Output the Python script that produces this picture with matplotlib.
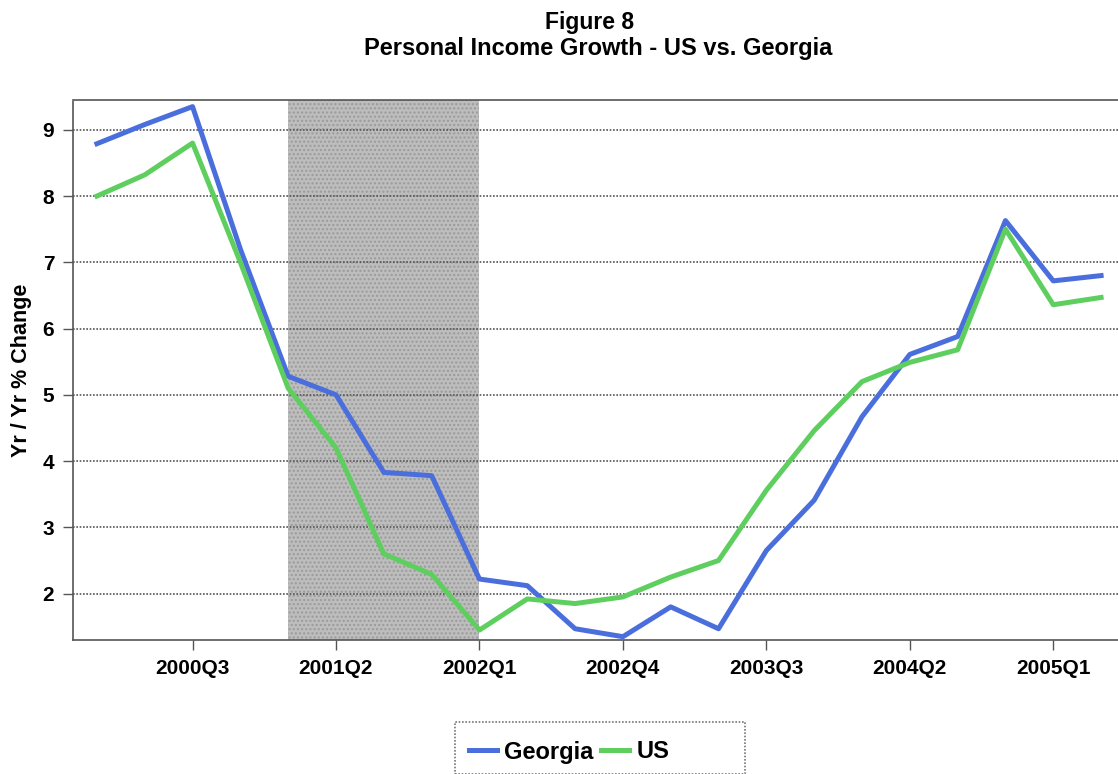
import matplotlib
matplotlib.use("Agg")
import matplotlib.pyplot as plt
from matplotlib.patches import Rectangle

plt.rcParams['font.family'] = ['Liberation Sans', 'DejaVu Sans']
plt.rcParams['font.weight'] = 'bold'

# ---- data ----
quarters = ['2000Q1', '2000Q2', '2000Q3', '2000Q4', '2001Q1', '2001Q2', '2001Q3', '2001Q4',
            '2002Q1', '2002Q2', '2002Q3', '2002Q4', '2003Q1', '2003Q2', '2003Q3', '2003Q4',
            '2004Q1', '2004Q2', '2004Q3', '2004Q4', '2005Q1', '2005Q2']
georgia = [8.79, 9.08, 9.35, 7.2, 5.28, 5.0, 3.83, 3.78, 2.22, 2.12, 1.47, 1.35,
           1.80, 1.47, 2.65, 3.41, 4.67, 5.61, 5.88, 7.63, 6.72, 6.80]
us = [8.0, 8.32, 8.80, 7.0, 5.10, 4.2, 2.6, 2.29, 1.45, 1.92, 1.85, 1.95,
      2.25, 2.5, 3.56, 4.46, 5.20, 5.49, 5.68, 7.50, 6.36, 6.47]
recession = ('2001Q1', '2002Q1')
tick_labels = ['2000Q3', '2001Q2', '2002Q1', '2002Q4', '2003Q3', '2004Q2', '2005Q1']

x = list(range(len(quarters)))

fig = plt.figure(figsize=(11.18, 7.74), dpi=100)
W, H = 1118, 774
# axes placed in pixel terms: left 73, right ~1125 (cut by the figure edge), top 100, bottom 640
ax = fig.add_axes([73 / W, 1 - 640 / H, (1125 - 73) / W, (640 - 100) / H])

# recession shading
ax.axvspan(quarters.index(recession[0]), quarters.index(recession[1]),
           facecolor='#bdbdbd', edgecolor='#9a9a9a', hatch='....', linewidth=0, zorder=0)

ax.plot(x, georgia, color='#4a6fdc', lw=3.6, label='Georgia', zorder=3)
ax.plot(x, us, color='#5ecf5e', lw=3.6, label='US', zorder=3)

ax.set_xlim(-0.5, len(quarters) - 0.5)
ax.set_ylim(1.3, 9.45)
ax.set_yticks([2, 3, 4, 5, 6, 7, 8, 9])
ax.set_xticks([quarters.index(q) for q in tick_labels])
ax.set_xticklabels(tick_labels)
ax.tick_params(axis='both', direction='out', length=7.5, width=1, color='#555555',
               labelsize=15, pad=6)
for lbl in ax.get_xticklabels() + ax.get_yticklabels():
    lbl.set_fontweight('bold')

ax.grid(axis='y', color='#555555', linestyle=(0, (1, 1)), linewidth=1.2, zorder=1)
for s in ax.spines.values():
    s.set_color('#555555')
    s.set_linestyle((0, (1, 1)))
    s.set_linewidth(1.2)

ax.set_ylabel('Yr / Yr % Change', fontsize=15.5, fontweight='bold', labelpad=8)

fig.text(590 / W, 1 - 22 / H, 'Figure 8', ha='center', va='center',
         fontsize=16.5, fontweight='bold')
fig.text(598 / W, 1 - 49 / H, 'Personal Income Growth - US vs. Georgia', ha='center',
         va='center', fontsize=17, fontweight='bold')

# legend box (cut off at the bottom like the original)
fig.patches.append(Rectangle((455 / W, 0), (745 - 455) / W, (774 - 722) / H,
                             transform=fig.transFigure, facecolor='white',
                             edgecolor='#777777', linestyle=(0, (1, 1)), lw=1.2))
leg = fig.legend(loc='center', bbox_to_anchor=(569 / W, 1 - 752 / H), ncol=2,
                 frameon=False, fontsize=17, handlelength=1.2, handletextpad=0.3,
                 columnspacing=0.3, borderpad=0)
for t in leg.get_texts():
    t.set_fontweight('bold')

fig.savefig('out.png', dpi=100)
